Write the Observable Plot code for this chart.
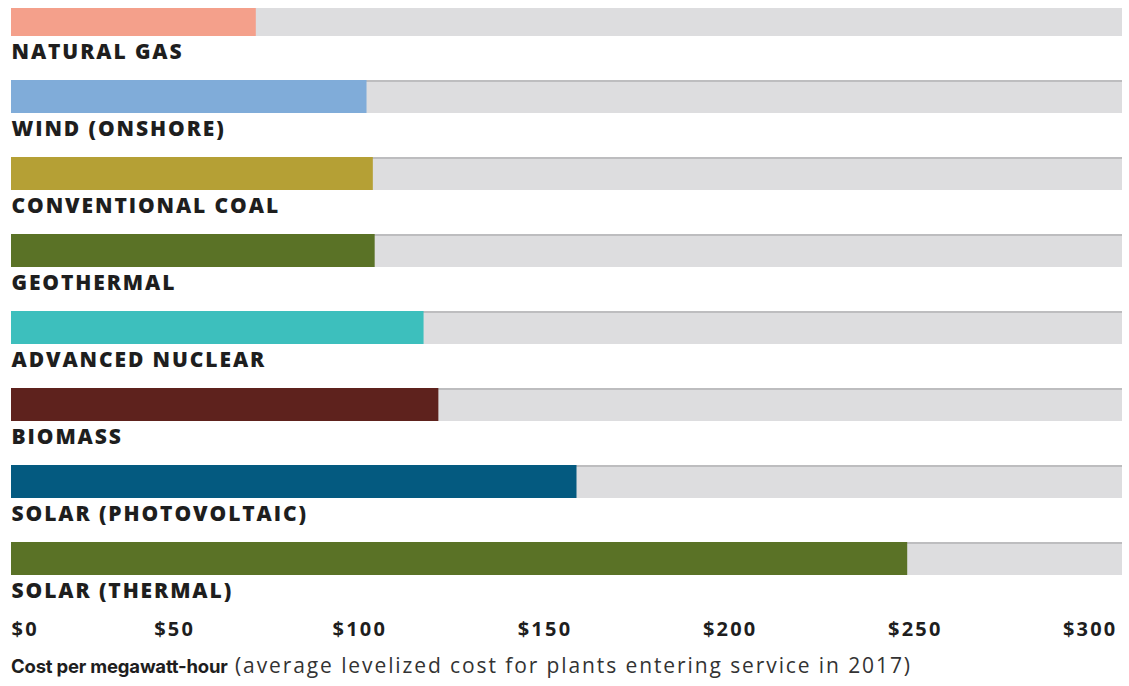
<!DOCTYPE html>
<html><head><meta charset="utf-8">
<script src="https://cdn.jsdelivr.net/npm/d3@7"></script>
<script src="https://cdn.jsdelivr.net/npm/@observablehq/plot@0.6"></script>
<style>
html,body{margin:0;padding:0;background:#fff;}
body{position:relative;width:1129px;height:686px;overflow:hidden;font-family:"Open Sans",sans-serif;}
#chart{position:absolute;left:0;top:0;}
#caption{position:absolute;left:11px;top:653px;font-size:21px;line-height:25px;color:#333;letter-spacing:1.9px;white-space:nowrap;font-family:"Open Sans",sans-serif;}
#caption b{font-family:Inter,sans-serif;font-size:18.5px;font-weight:700;color:#1e1e1e;letter-spacing:-0.2px;}
</style></head><body>
<div id="chart"></div>
<div id="caption"><b>Cost per megawatt-hour</b> (average levelized cost for plants entering service in 2017)</div>
<script>
const categories = ["NATURAL GAS","WIND (ONSHORE)","CONVENTIONAL COAL","GEOTHERMAL","ADVANCED NUCLEAR","BIOMASS","SOLAR (PHOTOVOLTAIC)","SOLAR (THERMAL)"];
const costs = [66.1, 96.0, 97.7, 98.2, 111.4, 115.4, 152.7, 242.0];
const colors = ["#f4a08b","#80acd9","#b5a035","#5a7226","#3dbfbd","#5e221d","#045a80","#5a7226"];
const tickValues = [0, 50, 100, 150, 200, 250, 300];
const scaleMax = 300;

const rows = categories.map((c, i) => ({category: c, cost: costs[i], color: colors[i]}));
const fmt = d => "$" + d;
const labelFont = "'Open Sans', sans-serif";

const chart = Plot.plot({
  width: 1129,
  height: 645,
  marginLeft: 11,
  marginRight: 7,
  marginTop: 8,
  marginBottom: 0,
  x: {domain: [0, scaleMax], axis: null},
  y: {domain: categories, range: [3, 3 + 8 * 77], padding: 0, axis: null},
  color: {type: "identity"},
  style: {fontFamily: labelFont, background: "white", overflow: "visible"},
  marks: [
    Plot.barX(rows, {x1: 0, x2: scaleMax, y: "category", fill: "#dddddf", insetBottom: 44, clip: "frame"}),
    Plot.barX(rows, {x1: 0, x2: scaleMax, y: "category", fill: "#bdbdbf", insetBottom: 75, clip: "frame"}),
    Plot.barX(rows, {x: "cost", y: "category", fill: d => d.color, insetBottom: 44, clip: "frame"}),
    Plot.text(rows, {x: 0, y: "category", text: "category", textAnchor: "start", lineAnchor: "bottom", dy: 16.5,
      fontSize: 21, fontWeight: 800, fill: "#1e1e1e"}),
    Plot.text(tickValues.slice(0, 1), {x: d => d, text: fmt, frameAnchor: "bottom", lineAnchor: "bottom", dy: -10,
      textAnchor: "start", fontSize: 20, fontWeight: 700, fill: "#1e1e1e"}),
    Plot.text(tickValues.slice(1, -1), {x: d => d, text: fmt, frameAnchor: "bottom", lineAnchor: "bottom", dy: -10,
      dx: -22, textAnchor: "middle", fontSize: 20, fontWeight: 700, fill: "#1e1e1e"}),
    Plot.text(tickValues.slice(-1), {x: d => d, text: fmt, frameAnchor: "bottom", lineAnchor: "bottom", dy: -10,
      dx: -5, textAnchor: "end", fontSize: 20, fontWeight: 700, fill: "#1e1e1e"})
  ]
});
// letter spacing for the text labels (Plot has no letterSpacing option)
d3.select(chart).selectAll("text").each(function() {
  const t = this.textContent;
  if (categories.includes(t)) this.style.letterSpacing = "1.9px";
  else if (t.startsWith("$")) this.style.letterSpacing = "2.2px";
});
document.getElementById("chart").appendChild(chart);
</script>
</body></html>
